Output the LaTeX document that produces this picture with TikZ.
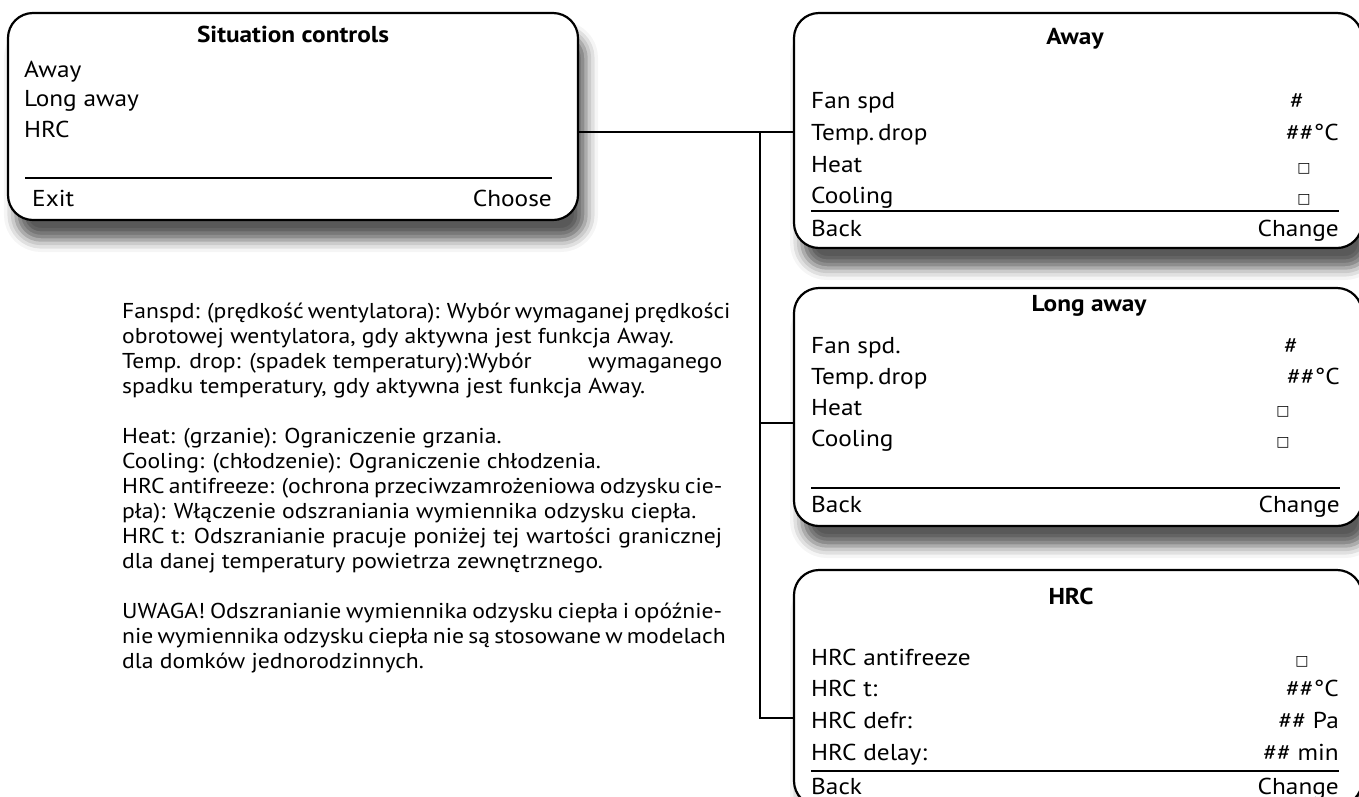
\documentclass[tikz,border=0pt]{standalone}
\usepackage{fontspec}
\setmainfont{PT Sans}[FakeStretch=1.1]
\newfontfamily\symfont{DejaVu Sans}
\usetikzlibrary{shadows.blur}
\tikzstyle{screen}=[draw, line width=2.2pt, rounded corners=25pt, fill=white, inner sep=0pt,
  blur shadow={shadow xshift=8pt, shadow yshift=-20pt, shadow blur radius=12pt, shadow opacity=65}]
\tikzstyle{row}=[anchor=base west, inner sep=0pt, font=\fontsize{23}{28}\selectfont]
\tikzstyle{val}=[anchor=base east, inner sep=0pt, font=\fontsize{23}{28}\selectfont]
\tikzstyle{mid}=[anchor=base, inner sep=0pt, font=\fontsize{23}{28}\selectfont]
\tikzstyle{head}=[anchor=base, inner sep=0pt, font=\fontsize{23}{28}\selectfont\bfseries]
\tikzstyle{link}=[line width=2.2pt]
\tikzstyle{rule}=[line width=2pt]
\newcommand{\row}{\node[row]}
\newcommand{\val}{\node[val]}
\newcommand{\chk}{{\symfont\fontsize{14}{14}\selectfont □}}
\newcommand{\jline}[1]{\makebox[600pt][s]{#1}}

\begin{document}
\begin{tikzpicture}[x=1pt, y=-1pt]
\useasboundingbox (0,0) rectangle (1359,796);
\clip (0,0) rectangle (1359,796);

\node[screen, minimum width=570pt, minimum height=207pt] (main) at (293,116.5) {};
\node[head] (m0) at (293,42) {Situation controls};
\row (m1) at (24,77) {Away};
\row (m2) at (24,106) {Long away};
\row (m3) at (24,137) {HRC};
\draw[rule] (25,178) -- (552,178);
\row (m4) at (32,206) {Exit};
\val (m5) at (552,206) {Choose};

\node[screen, minimum width=568pt, minimum height=235pt] (away) at (1078,130.5) {};
\node[head] (a0) at (1075,44) {Away};
\row (a1) at (811,108) {Fan spd};
\row (a2) at (811,140) {Temp.\,drop};
\row (a3) at (811,172) {Heat};
\row (a4) at (811,203) {Cooling};
\node[mid] (a5) at (1297,108) {\#};
\val (a6) at (1339,140) {\#\#°C};
\node[mid] (a7) at (1304,172) {\chk};
\node[mid] (a8) at (1304,203) {\chk};
\draw[rule] (811,211) -- (1339,211);
\row (a9) at (811,236) {Back};
\val (a10) at (1339,236) {Change};

\node[screen, minimum width=568pt, minimum height=238pt] (lng) at (1078,407) {};
\node[head] (l0) at (1089,311) {Long away};
\row (l1) at (811,353) {Fan spd.};
\row (l2) at (811,384) {Temp.\,drop};
\row (l3) at (811,415) {Heat};
\row (l4) at (811,446) {Cooling};
\node[mid] (l5) at (1291,353) {\#};
\val (l6) at (1340,384) {\#\#°C};
\node[mid] (l7) at (1283,415) {\chk};
\node[mid] (l8) at (1283,446) {\chk};
\draw[rule] (811,488) -- (1340,488);
\row (l9) at (811,512) {Back};
\val (l10) at (1340,512) {Change};

\node[screen, minimum width=568pt, minimum height=236pt] (hrc) at (1078,688) {};
\node[head] (h0) at (1071,604) {HRC};
\row (h1) at (811,665) {HRC antifreeze};
\row (h2) at (811,696) {HRC t:};
\row (h3) at (811,728) {HRC defr:};
\row (h4) at (811,760) {HRC delay:};
\node[mid] (h5) at (1302,665) {\chk};
\val (h6) at (1339,696) {\#\#°C};
\val (h7) at (1339,728) {\#\# Pa};
\val (h8) at (1339,760) {\#\# min};
\draw[rule] (811,771) -- (1339,771);
\row (h9) at (811,794) {Back};
\val (h10) at (1339,794) {Change};

\coordinate (fork) at (760,132);
\draw[link] (main.east |- fork) -- (away.west |- fork);
\draw[link] (fork) |- ([yshift=-30pt]hrc.west);
\draw[link] ([yshift=-16pt]lng.west) -- ++(-34,0);

\node[anchor=base west, inner sep=0pt, align=left, font=\fontsize{21.5}{25}\selectfont] (notes) at (122,668) {
\jline{Fanspd: (prędkość wentylatora): Wybór wymaganej prędkości}\\
obrotowej wentylatora, gdy aktywna jest funkcja Away.\\
\jline{Temp. drop: (spadek temperatury):Wybór\hfill wymaganego}\\
spadku temperatury, gdy aktywna jest funkcja Away.\\[25pt]
Heat: (grzanie): Ograniczenie grzania.\\
Cooling: (chłodzenie): Ograniczenie chłodzenia.\\
\jline{HRC antifreeze: (ochrona przeciwzamrożeniowa odzysku cie-}\\
pła): Włączenie odszraniania wymiennika odzysku ciepła.\\
\jline{HRC t: Odszranianie pracuje poniżej tej wartości granicznej}\\
dla danej temperatury powietrza zewnętrznego.\\[25pt]
\jline{UWAGA! Odszranianie wymiennika odzysku ciepła i opóźnie-}\\
\jline{nie wymiennika odzysku ciepła nie są stosowane w modelach}\\
dla domków jednorodzinnych.
};
\end{tikzpicture}
\end{document}
